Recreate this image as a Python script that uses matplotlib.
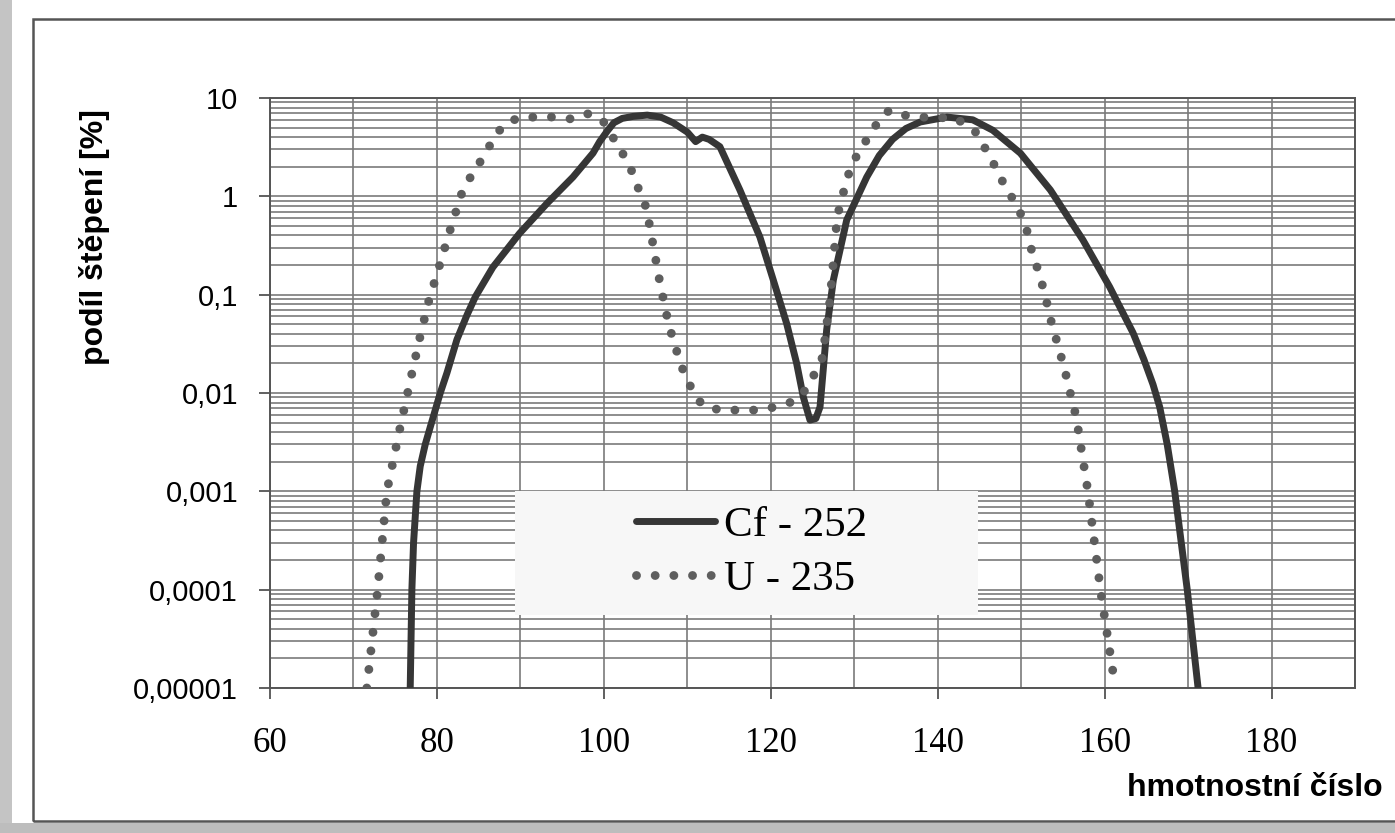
#!/usr/bin/env python3
"""Fission product yield curves for Cf-252 and U-235 (log scale)."""

import matplotlib

matplotlib.use("Agg")
import matplotlib.pyplot as plt
from matplotlib.patches import Rectangle
from matplotlib.ticker import FixedLocator, LogLocator, NullFormatter

# mass number vs. yield [%]
cf252_mass = [76.8, 77.0, 77.2, 77.6, 78.0, 78.6, 79.2, 80.4, 81.2, 82.4,
              83.6, 84.6, 86.7, 89.9, 93.2, 96.3, 98.7, 99.5, 100.4, 101.2,
              102.2, 103.5, 105.2, 106.8, 108.3, 110.0, 111.0, 111.8, 112.6, 113.9,
              116.3, 118.7, 120.3, 121.9, 123.1, 123.9, 124.7, 125.4, 125.9, 126.7,
              127.5, 129.1, 131.5, 133.0, 134.6, 136.2, 137.9, 141.1, 144.2, 146.6,
              149.9, 153.5, 157.4, 160.6, 163.4, 164.7, 165.8, 166.6, 167.5, 168.4,
              169.9, 171.2]
cf252_yield = [1e-5, 1e-4, 3e-4, 1e-3, 0.0018, 0.003, 0.0045, 0.01, 0.016, 0.035,
               0.062, 0.095, 0.19, 0.42, 0.85, 1.57, 2.75, 3.6, 4.6, 5.6,
               6.2, 6.5, 6.7, 6.4, 5.6, 4.5, 3.6, 4.0, 3.8, 3.2,
               1.16, 0.385, 0.141, 0.051, 0.020, 0.0091, 0.0053, 0.0055, 0.0072, 0.044,
               0.141, 0.575, 1.57, 2.6, 3.8, 4.9, 5.7, 6.4, 6.0, 4.7,
               2.75, 1.16, 0.36, 0.12, 0.041, 0.022, 0.0122, 0.0072, 0.003, 0.001,
               1e-4, 1e-5]

u235_mass = [71.6, 72.9, 74.0, 75.6, 77.0, 78.0, 79.05, 80.4, 81.7, 83.1,
             84.1, 85.4, 86.6, 87.8, 89.7, 91.9, 94.0, 96.3, 98.3, 100.1,
             101.3, 102.4, 103.5, 104.2, 105.1, 105.9, 106.7, 107.6, 108.2, 108.9,
             109.6, 110.6, 111.8, 113.9, 118.5, 120.5, 122.7, 124.3, 125.3, 126.3,
             126.5, 127.1, 127.5, 127.9, 128.3, 128.9, 129.5, 130.5, 131.7, 133.0,
             134.2, 136.3, 139.1, 142.1, 144.7, 145.8, 146.9, 147.8, 149.0, 150.0,
             150.8, 151.3, 152.0, 152.6, 153.2, 153.7, 154.3, 154.9, 155.5, 156.0,
             156.6, 158.0, 159.5, 161.0]
u235_yield = [1e-5, 1e-4, 1e-3, 0.0045, 0.0158, 0.038, 0.088, 0.21, 0.49, 1.16,
              1.61, 2.4, 3.6, 5.1, 6.3, 6.4, 6.4, 6.1, 7.0, 5.6,
              3.7, 2.6, 1.7, 1.16, 0.76, 0.32, 0.135, 0.058, 0.037, 0.024,
              0.016, 0.0107, 0.0075, 0.0067, 0.0067, 0.0072, 0.0082, 0.011, 0.016, 0.024,
              0.037, 0.088, 0.22, 0.54, 0.85, 1.24, 1.9, 2.8, 4.0, 6.0,
              7.5, 6.6, 6.3, 6.3, 4.4, 2.95, 2.0, 1.4, 0.94, 0.65,
              0.42, 0.27, 0.18, 0.12, 0.075, 0.049, 0.033, 0.0216, 0.0138, 0.0091,
              0.0057, 0.001, 1e-4, 1.45e-5]

x_ticks = [60, 80, 100, 120, 140, 160, 180]
y_ticks = [1e-5, 1e-4, 1e-3, 1e-2, 1e-1, 1, 10]
y_tick_labels = ["0,00001", "0,0001", "0,001", "0,01", "0,1", "1", "10"]

SANS = "Liberation Sans"
SERIF = "Liberation Serif"
GRID = "#7a7a7a"

fig = plt.figure(figsize=(13.95, 8.33), dpi=100)
fig.patch.set_facecolor("white")

# scanned page frame
fig.patches.append(Rectangle((0, 0), 12 / 1395, 1, transform=fig.transFigure,
                             facecolor="#c4c4c4", edgecolor="none", zorder=0))
fig.patches.append(Rectangle((0, 0), 1, 10 / 833, transform=fig.transFigure,
                             facecolor="#bdbdbd", edgecolor="none", zorder=0))
fig.patches.append(Rectangle((33 / 1395, 12 / 833), 1.1, 1 - 19 / 833 - 12 / 833,
                             transform=fig.transFigure, facecolor="none",
                             edgecolor="#555555", linewidth=1.8, zorder=1))

ax = fig.add_axes([270 / 1395, 1 - 688 / 833, 1085 / 1395, 590 / 833])
ax.set_yscale("log")
ax.set_xlim(60, 190)
ax.set_ylim(1e-5, 10)

ax.plot(cf252_mass, cf252_yield, color="#363636", linewidth=5.0,
        solid_capstyle="round", solid_joinstyle="round", label="Cf - 252", zorder=4)
ax.plot(u235_mass, u235_yield, color="#5e5e5e", linewidth=6.4,
        linestyle=(0, (0.001, 2.1)), dash_capstyle="round", label="U - 235", zorder=4)

# grid: vertical every 10, horizontal at every log subdivision
ax.xaxis.set_major_locator(FixedLocator(x_ticks))
ax.xaxis.set_minor_locator(FixedLocator(range(60, 191, 10)))
ax.yaxis.set_major_locator(FixedLocator(y_ticks))
ax.yaxis.set_minor_locator(LogLocator(base=10, subs=range(2, 10), numticks=20))
ax.yaxis.set_minor_formatter(NullFormatter())
ax.grid(which="both", color=GRID, linewidth=1.2)
ax.set_axisbelow(True)

ax.set_xticklabels([str(t) for t in x_ticks], fontfamily=SERIF, fontsize=25)
ax.set_yticklabels(y_tick_labels, fontfamily=SANS, fontsize=21)
ax.tick_params(axis="x", which="major", direction="out", length=8, width=1.2,
               color="#444444", pad=20)
ax.tick_params(axis="y", which="major", direction="out", length=8, width=1.2,
               color="#444444", pad=15)
ax.tick_params(which="minor", length=0)
for name, spine in ax.spines.items():
    spine.set_color("#555555")
    spine.set_linewidth(1.4)

# white legend panel
ax.add_patch(Rectangle((0.2258, 0.1237), 0.4267, 0.2102, transform=ax.transAxes,
                       facecolor="#f7f7f7", edgecolor="none", zorder=5))
leg = ax.legend(loc="center", bbox_to_anchor=(0.4438, 0.2297), frameon=False,
                prop={"family": SERIF, "size": 31}, handlelength=1.85,
                handletextpad=0.2, labelspacing=0.35, borderpad=0)
leg.set_zorder(6)

fig.text(95 / 1395, 1 - 237 / 833, "podíl štěpení [%]", rotation=90,
         ha="center", va="center", fontfamily=SANS, fontweight="bold", fontsize=23)
fig.text(1255 / 1395, 1 - 788 / 833, "hmotnostní číslo", ha="center", va="center",
         fontfamily=SANS, fontweight="bold", fontsize=23)

fig.savefig("out.png", dpi=100)
